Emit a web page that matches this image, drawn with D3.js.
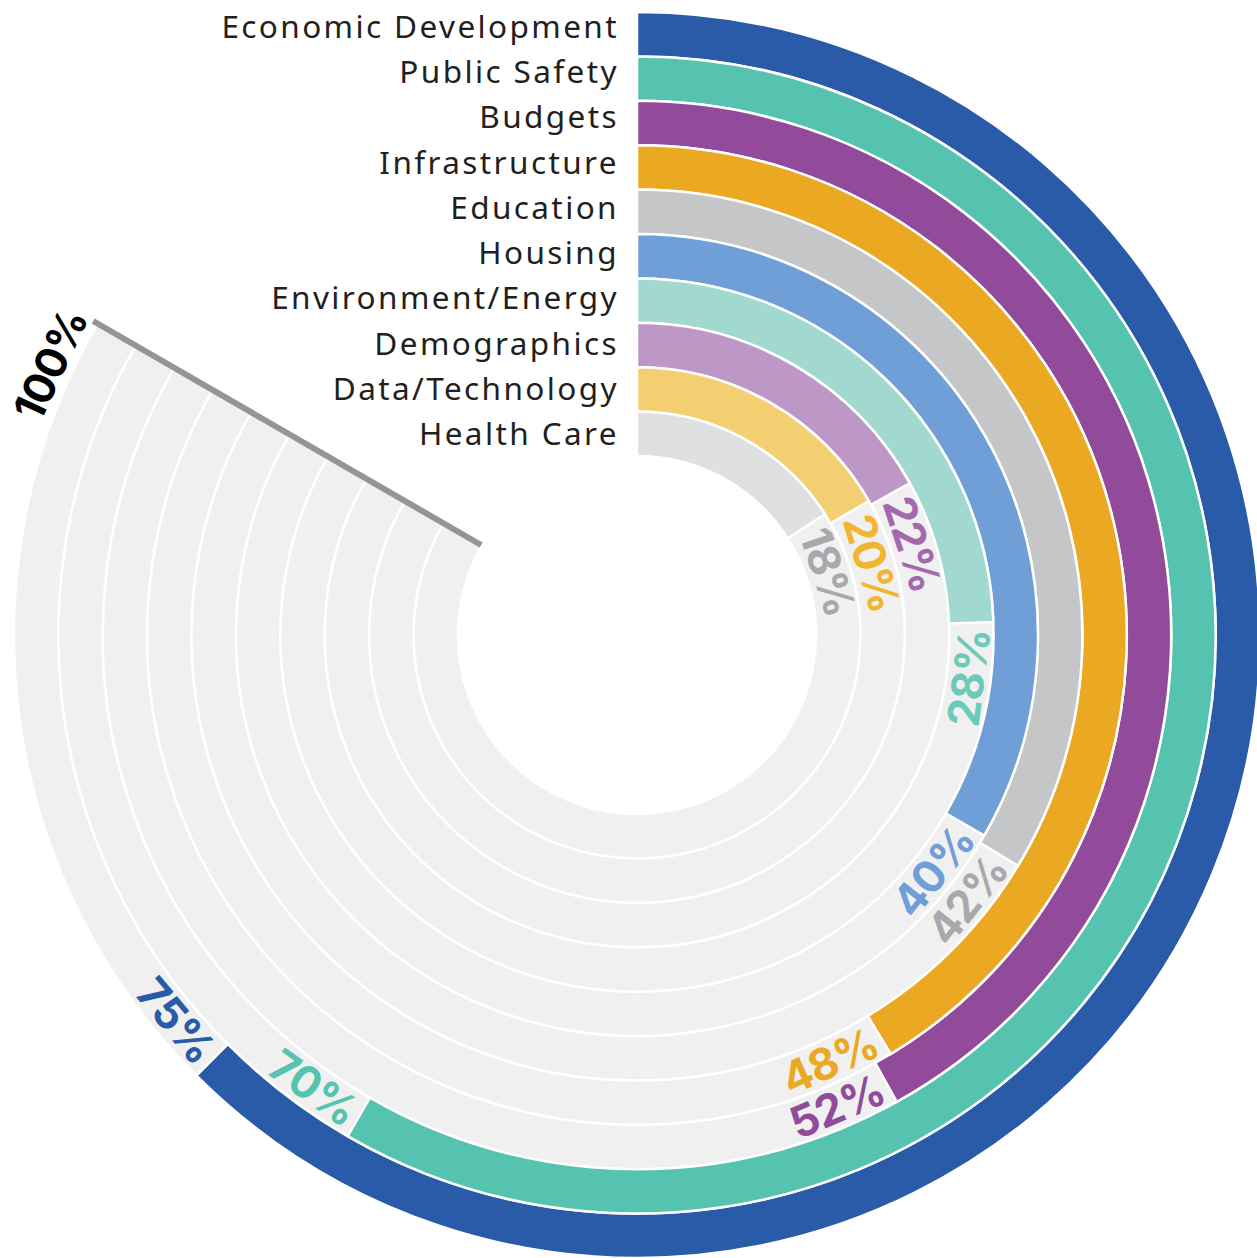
<!DOCTYPE html>
<html>
<head>
<meta charset="utf-8">
<script src="https://cdn.jsdelivr.net/npm/d3@7"></script>
<style>
  html, body { margin: 0; padding: 0; background: #fff; }
  svg { display: block; }
  .val { font-style: normal; }
</style>
</head>
<body>
<svg id="chart" width="1257" height="1258"></svg>
<script>
// ---- data ----
const categories = ["Economic Development","Public Safety","Budgets","Infrastructure","Education",
                    "Housing","Environment/Energy","Demographics","Data/Technology","Health Care"];
// extent of each drawn bar, percent of the full 300° scale
const barValues = [75, 70, 50.3, 49.6, 40.4, 40, 29.3, 20.3, 20, 19.1];
// percentages printed next to each bar
const percentLabels = ["75%","70%","52%","48%","42%","40%","28%","22%","20%","18%"];
const scaleMax = 100;
const scaleMaxLabel = "100%";
const barColors = ["#2a5ba8","#56c3b0","#924a9b","#eba823","#c5c6c7",
                   "#6f9fd6","#a1d8d0","#bd97c6","#f4cf72","#dfe0e1"];
const labelColors = ["#2a5ba8","#56c3b0","#924a9b","#eba823","#a7a9ac",
                     "#6f9fd6","#6ccab9","#a368ad","#f1b52f","#a7a9ac"];

// ---- layout ----
const cx = 637, cy = 635;
const rInner = 179, rOuter = 623;
const svg = d3.select("#chart");
const g = svg.append("g").attr("transform", `translate(${cx},${cy})`);

const radius = d3.scaleBand().domain(categories).range([rOuter, rInner]).paddingInner(0);
const bw = radius.bandwidth();
const angle = d3.scaleLinear().domain([0, scaleMax]).range([0, 5 * Math.PI / 3]);

const arc = d3.arc()
  .innerRadius(d => radius(d.cat))
  .outerRadius(d => radius(d.cat) + bw)
  .startAngle(0)
  .endAngle(d => angle(d.v));

const rows = categories.map((c, i) => ({cat: c, v: barValues[i], label: percentLabels[i],
                                         color: barColors[i], lcolor: labelColors[i], i}));

// background tracks
g.selectAll("path.track").data(rows.map(r => ({cat: r.cat, v: scaleMax})))
  .join("path").attr("class", "track")
  .attr("d", arc)
  .attr("fill", "#f0f0f0").attr("stroke", "#fff").attr("stroke-width", 2.5);

// bars
g.selectAll("path.bar").data(rows)
  .join("path").attr("class", "bar")
  .attr("d", arc)
  .attr("fill", d => d.color).attr("stroke", "#fff").attr("stroke-width", 2.5);

// 100% line
const aMax = angle(scaleMax);
g.append("line")
  .attr("x1", (rInner + 1) * Math.sin(aMax)).attr("y1", -(rInner + 1) * Math.cos(aMax))
  .attr("x2", (rOuter + 5) * Math.sin(aMax)).attr("y2", -(rOuter + 5) * Math.cos(aMax))
  .attr("stroke", "#939598").attr("stroke-width", 6);

// category labels (left of the top of the rings)
const labelY = d3.scalePoint().domain(categories).range([38 - cy, 445 - cy]);
g.selectAll("text.cat").data(rows)
  .join("text").attr("class", "cat")
  .attr("x", -18).attr("y", d => labelY(d.cat))
  .attr("text-anchor", "end")
  .style("font-family", "'Noto Sans', 'Open Sans', sans-serif")
  .style("font-size", "31.5px").style("letter-spacing", "2.4px")
  .attr("fill", "#231f20")
  .text(d => d.cat);

// percentage labels placed just past the end of each bar
function placeAlong(sel, rFn, startAngleFn, pad) {
  sel.each(function(d) {
    const L = this.getComputedTextLength();
    const r = rFn(d);
    const ac = startAngleFn(d) + (pad + L / 2) / r;
    const deg = ac * 180 / Math.PI;
    const x = r * Math.sin(ac), y = -r * Math.cos(ac);
    const rot = (deg > 90 && deg < 270) ? deg - 180 : deg;
    d3.select(this).attr("transform", `translate(${x},${y}) rotate(${rot})`);
  });
}

const valueFont = "Inter, 'Noto Sans', sans-serif";
const vl = g.selectAll("text.val").data(rows)
  .join("text").attr("class", "val")
  .attr("text-anchor", "middle").attr("dy", "0.36em")
  .style("font-family", valueFont)
  .style("font-weight", 700).style("font-size", "44px")
  .style("letter-spacing", "-1px")
  .attr("fill", d => d.lcolor)
  .text(d => d.label);
placeAlong(vl, d => radius(d.cat) + bw / 2, d => angle(d.v), 6);

// 100% label outside the outer ring, ending at the max line
const ml = g.append("text").attr("class", "val")
  .attr("text-anchor", "middle").attr("dy", "0.36em")
  .style("font-family", valueFont)
  .style("font-weight", 700).style("font-size", "43px")
  .style("letter-spacing", "-1px")
  .attr("fill", "#000")
  .text(scaleMaxLabel);
(function() {
  const L = ml.node().getComputedTextLength();
  const r = rOuter + 23;
  const ac = aMax - (L / 2 + 1) / r;
  const deg = ac * 180 / Math.PI;
  ml.attr("transform", `translate(${r * Math.sin(ac)},${-r * Math.cos(ac)}) rotate(${deg})`);
})();
</script>
</body>
</html>
